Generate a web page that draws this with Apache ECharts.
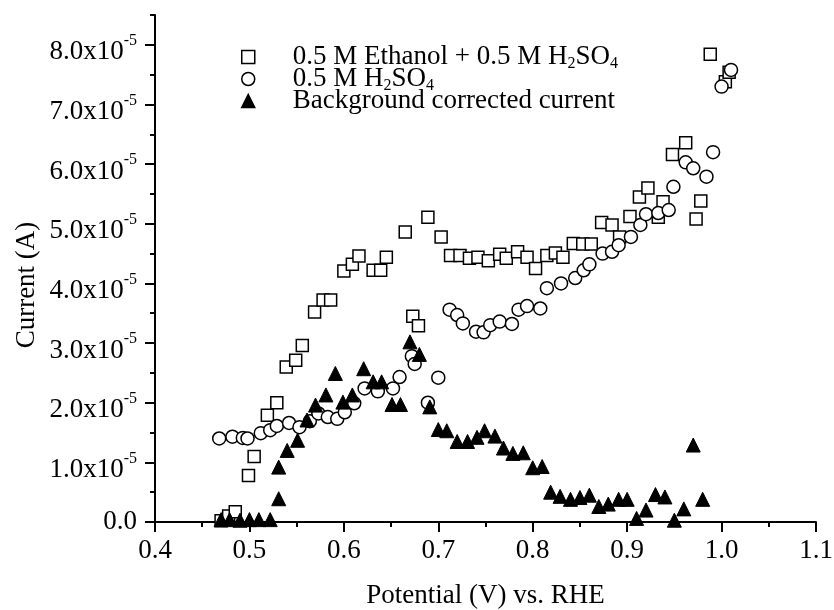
<!DOCTYPE html>
<html lang="en">
<head>
<meta charset="UTF-8">
<title>Current vs. potential</title>
<script src="https://cdn.jsdelivr.net/npm/echarts@6/dist/echarts.min.js"></script>
<style>
  body { margin: 0; background: #fff; }
  #chart { width: 834px; height: 610px; }
</style>
</head>
<body>
<div id="chart"></div>
<script>
// potential in V vs. RHE, current in units of 1e-5 A
const ethanolV = [0.470, 0.478, 0.485, 0.499, 0.505, 0.519, 0.529, 0.539, 0.549, 0.556,
  0.569, 0.578, 0.586, 0.600, 0.609, 0.616, 0.631, 0.639, 0.645, 0.665,
  0.673, 0.679, 0.689, 0.703, 0.713, 0.723, 0.733, 0.742, 0.753, 0.765,
  0.772, 0.784, 0.794, 0.803, 0.815, 0.824, 0.832, 0.843, 0.853, 0.862,
  0.873, 0.884, 0.892, 0.903, 0.913, 0.922, 0.933, 0.938, 0.948, 0.962,
  0.973, 0.978, 0.988, 1.004, 1.008];
const ethanolI = [0.02, 0.10, 0.17, 0.78, 1.10, 1.79, 2.00, 2.60, 2.71, 2.96,
  3.52, 3.72, 3.72, 4.21, 4.32, 4.46, 4.22, 4.22, 4.44, 4.86,
  3.45, 3.29, 5.11, 4.78, 4.47, 4.47, 4.42, 4.44, 4.38, 4.49,
  4.42, 4.53, 4.44, 4.25, 4.47, 4.51, 4.44, 4.67, 4.66, 4.66,
  5.02, 4.98, 4.78, 5.12, 5.45, 5.60, 5.11, 5.37, 6.16, 6.36,
  5.08, 5.38, 7.84, 7.38, 7.54];

const acidV = [0.468, 0.482, 0.493, 0.498, 0.512, 0.522, 0.529, 0.542, 0.553, 0.564,
  0.573, 0.583, 0.593, 0.601, 0.611, 0.622, 0.636, 0.652, 0.659, 0.672,
  0.675, 0.689, 0.700, 0.712, 0.720, 0.726, 0.740, 0.748, 0.755, 0.765,
  0.778, 0.785, 0.794, 0.808, 0.815, 0.830, 0.845, 0.854, 0.860, 0.874,
  0.884, 0.891, 0.904, 0.914, 0.920, 0.933, 0.944, 0.949, 0.962, 0.970,
  0.984, 0.991, 1.000, 1.010];
const acidI = [1.40, 1.43, 1.41, 1.40, 1.49, 1.54, 1.61, 1.66, 1.59, 1.69,
  1.82, 1.76, 1.73, 1.84, 1.99, 2.24, 2.19, 2.24, 2.43, 2.78,
  2.65, 2.00, 2.42, 3.56, 3.47, 3.33, 3.19, 3.18, 3.30, 3.36,
  3.32, 3.56, 3.62, 3.58, 3.92, 4.00, 4.09, 4.22, 4.32, 4.50,
  4.53, 4.64, 4.78, 4.98, 5.16, 5.18, 5.23, 5.62, 6.03, 5.93,
  5.79, 6.20, 7.30, 7.58];

const correctedV = [0.470, 0.479, 0.490, 0.500, 0.510, 0.522, 0.531, 0.531, 0.540, 0.551,
  0.561, 0.570, 0.581, 0.591, 0.599, 0.609, 0.621, 0.631, 0.640, 0.651,
  0.660, 0.670, 0.680, 0.691, 0.700, 0.709, 0.720, 0.731, 0.741, 0.749,
  0.760, 0.769, 0.779, 0.790, 0.800, 0.810, 0.819, 0.829, 0.840, 0.850,
  0.860, 0.870, 0.880, 0.891, 0.900, 0.910, 0.920, 0.930, 0.940, 0.950,
  0.960, 0.970, 0.980];
const correctedI = [0.04, 0.04, 0.03, 0.04, 0.04, 0.04, 0.39, 0.92, 1.20, 1.37,
  1.71, 1.96, 2.13, 2.49, 2.01, 2.13, 2.57, 2.35, 2.35, 1.97,
  1.97, 3.02, 2.81, 1.93, 1.55, 1.53, 1.35, 1.35, 1.42, 1.53,
  1.44, 1.24, 1.15, 1.16, 0.91, 0.93, 0.50, 0.43, 0.38, 0.41,
  0.45, 0.26, 0.30, 0.38, 0.38, 0.06, 0.20, 0.46, 0.42, 0.03,
  0.22, 1.29, 0.38];

const yMajor = [0, 1, 2, 3, 4, 5, 6, 7, 8];

const legendText = {
  'Ethanol': '{g| }0.5 M Ethanol + 0.5 M H{sub|2}SO{sub|4}',
  'Acid': '{g| }0.5 M H{sub|2}SO{sub|4}',
  'Corrected': '{g| }Background corrected current'
};

const font = 'Liberation Serif';
const pairs = (xs, ys) => xs.map((x, i) => [x, ys[i]]);

const chart = echarts.init(document.getElementById('chart'));
chart.setOption({
  animation: false,
  backgroundColor: '#fff',
  textStyle: { fontFamily: font, color: '#000' },
  grid: { left: 155, right: 18, top: 15, bottom: 88, outerBoundsMode: 'none' },
  legend: {
    orient: 'vertical',
    left: 236,
    top: 38,
    itemWidth: 13,
    itemHeight: 13,
    itemGap: -7,
    selectedMode: false,
    itemStyle: { borderWidth: 1.5 },
    formatter: name => legendText[name],
    textStyle: {
      fontFamily: font, fontSize: 27, lineHeight: 28, color: '#000',
      rich: {
        g: { width: 33, fontSize: 27, lineHeight: 28 },
        sub: { fontFamily: font, fontSize: 16, lineHeight: 15, padding: [13, 0, 0, 0], verticalAlign: 'top' }
      }
    }
  },
  xAxis: {
    type: 'value',
    min: 0.4,
    max: 1.1,
    interval: 0.1,
    name: 'Potential (V) vs. RHE',
    nameLocation: 'middle',
    nameGap: 60,
    nameTextStyle: { fontFamily: font, fontSize: 27, lineHeight: 28, color: '#000' },
    axisLine: { show: true, lineStyle: { color: '#000', width: 2 } },
    axisTick: { show: true, length: 10, lineStyle: { color: '#000', width: 2 } },
    minorTick: { show: true, splitNumber: 2, length: 5, lineStyle: { color: '#000', width: 2 } },
    axisLabel: {
      margin: 15, fontFamily: font, fontSize: 27, lineHeight: 28, color: '#000',
      formatter: v => v.toFixed(1)
    },
    splitLine: { show: false }
  },
  yAxis: [{
    type: 'value',
    position: 'left',
    min: 0,
    max: 8.5,
    interval: 0.5,
    axisLine: { show: true, lineStyle: { color: '#000', width: 2 } },
    axisTick: { show: true, length: 5, lineStyle: { color: '#000', width: 2 } },
    axisLabel: {
      customValues: yMajor,
      margin: 18,
      formatter: v => v === 0 ? '{z|0.0}' : '{a|' + v.toFixed(1) + 'x10}{s|-5}',
      rich: {
        a: { fontFamily: font, fontSize: 27, lineHeight: 36, padding: [15, 0, 0, 0], color: '#000' },
        z: { fontFamily: font, fontSize: 27, lineHeight: 36, color: '#000' },
        s: { fontFamily: font, fontSize: 16, lineHeight: 10, padding: [6, 0, 0, 0], verticalAlign: 'top', color: '#000' }
      }
    },
    splitLine: { show: false }
  }, {
    type: 'value',
    position: 'left',
    offset: 0,
    min: 0,
    max: 8.5,
    axisLine: { show: false },
    axisTick: { show: true, customValues: yMajor, length: 10, lineStyle: { color: '#000', width: 2 } },
    axisLabel: { show: false },
    splitLine: { show: false }
  }],
  graphic: [{
    type: 'text',
    x: 27,
    y: 285,
    rotation: Math.PI / 2,
    style: {
      text: 'Current (A)',
      font: '27px "Liberation Serif"',
      fill: '#000',
      align: 'center',
      verticalAlign: 'middle'
    }
  }],
  series: [{
    name: 'Ethanol',
    type: 'scatter',
    symbol: 'rect',
    symbolSize: 12,
    clip: false,
    itemStyle: { color: '#fff', borderColor: '#000', borderWidth: 1.5, opacity: 1 },
    emphasis: { disabled: true },
    data: pairs(ethanolV, ethanolI)
  }, {
    name: 'Acid',
    type: 'scatter',
    symbol: 'circle',
    symbolSize: 13,
    clip: false,
    itemStyle: { color: '#fff', borderColor: '#000', borderWidth: 1.5, opacity: 1 },
    emphasis: { disabled: true },
    data: pairs(acidV, acidI)
  }, {
    name: 'Corrected',
    type: 'scatter',
    symbol: 'triangle',
    symbolSize: 14,
    clip: false,
    itemStyle: { color: '#000', borderColor: '#000', borderWidth: 1, opacity: 1 },
    emphasis: { disabled: true },
    data: pairs(correctedV, correctedI)
  }]
});
</script>
</body>
</html>
